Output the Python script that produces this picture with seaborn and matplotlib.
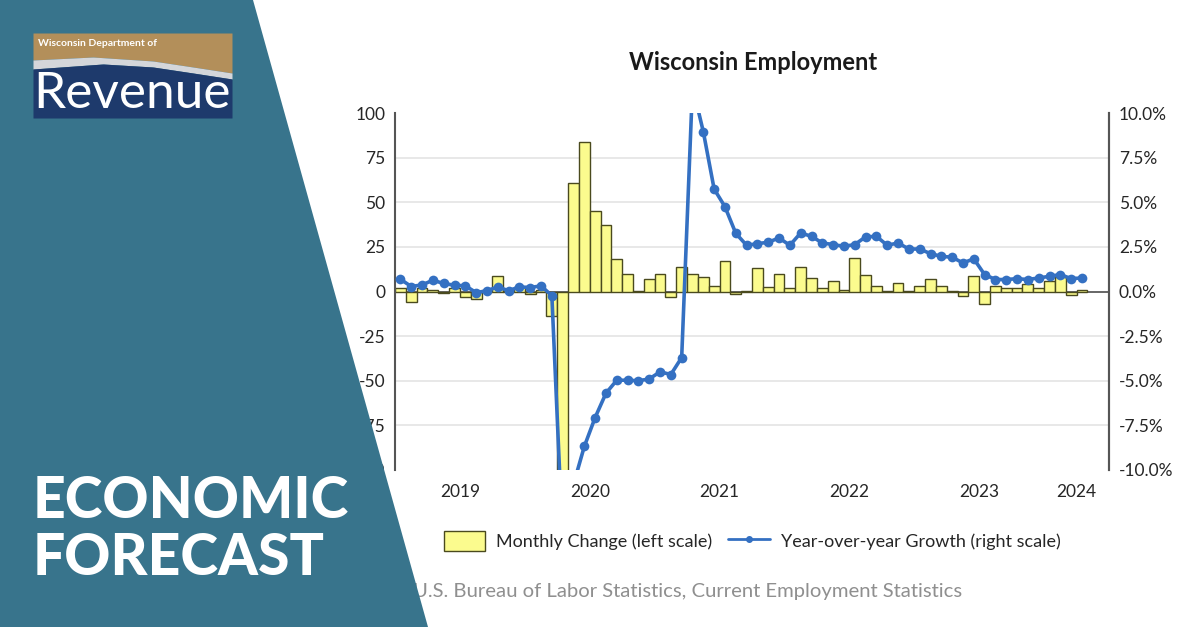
import numpy as np
import pandas as pd
import matplotlib
matplotlib.use("Agg")
import matplotlib.pyplot as plt
import seaborn as sns
from matplotlib.patches import Polygon, Patch
from matplotlib.lines import Line2D
from matplotlib.ticker import FixedLocator

# monthly change in WI employment (thousands), Jan 2019 - Apr 2024
monthly_change = [2, -6, 2, 1, -1, 2, -3, -4, 1, 8.5, 0.5, 2.5, -1.5, 1, -14,
                  -390, 61, 84, 45, 37, 18, 10, 0.5, 7, 10, -3, 14, 10, 8, 3, 17, -1.5,
                  0.5, 13, 2.5, 10, 2, 14, 7.5, 2, 6, 1, 19, 9, 3, 0.5, 5, 0.5,
                  3, 7, 3, 0.5, -2.5, 8.5, -7, 3, 2, 2, 4, 2, 6, 8, -2, 1]
# year-over-year growth (%)
yoy_growth = [0.69, 0.28, 0.37, 0.63, 0.45, 0.35, 0.32, -0.06, 0.04, 0.26, 0.04, 0.26, 0.22, 0.32, -0.24,
              -14.0, -10.8, -8.68, -7.06, -5.7, -4.97, -4.97, -5.0, -4.9, -4.5, -4.65, -3.7,
              11.5, 8.95, 5.74, 4.75, 3.26, 2.59, 2.68, 2.76, 3.0, 2.59, 3.28, 3.09, 2.72,
              2.63, 2.53, 2.63, 3.06, 3.09, 2.59, 2.72, 2.38, 2.38, 2.12, 1.97, 1.92, 1.60,
              1.83, 0.95, 0.67, 0.67, 0.72, 0.67, 0.76, 0.85, 0.95, 0.72, 0.76]
# axis runs Jan 2019 - Jun 2024
axis_months = pd.date_range("2019-01-01", "2024-06-01", freq="MS")
year_labels = ["2019", "2020", "2021", "2022", "2023", "2024"]
left_ticks = [100, 75, 50, 25, 0, -25, -50, -75, -100]
right_ticks = [10.0, 7.5, 5.0, 2.5, 0.0, -2.5, -5.0, -7.5, -10.0]

month_keys = [d.strftime("%Y-%m") for d in axis_months]
df = pd.DataFrame({"month": month_keys[:len(monthly_change)],
                   "change": monthly_change,
                   "yoy": yoy_growth,
                   "pos": np.arange(len(monthly_change))})

sns.set_style("white")
plt.rcParams["font.family"] = ["Lato", "DejaVu Sans"]

fig = plt.figure(figsize=(12, 6.27), dpi=100)
fig.patch.set_facecolor("white")

ax = fig.add_axes([395 / 1200, 1 - 470 / 627, 714 / 1200, 357 / 627])
sns.barplot(data=df, x="month", y="change", order=month_keys, color="#fbfb8e",
            edgecolor="#4a4a1e", linewidth=1, width=1.0, saturation=1,
            errorbar=None, ax=ax, zorder=2)
ax.set_ylim(-100, 100)
ax.set_xlim(-0.5, len(month_keys) - 0.5)
ax.yaxis.set_major_locator(FixedLocator(left_ticks))
ax.set_yticklabels([str(t) for t in left_ticks])
for t in left_ticks:
    if t not in (0, 100, -100):
        ax.axhline(t, color="#e4e4e4", lw=1.2, zorder=0)
ax.axhline(0, color="#5a5a5a", lw=1.3, zorder=1)

pos = np.arange(len(month_keys))
year_of = np.array([d.year for d in axis_months])
centers = [pos[year_of == int(y)].mean() for y in year_labels]
ax.set_xticks(centers)
ax.set_xticklabels(year_labels)
ax.set_xlabel("")
ax.set_ylabel("")
ax.tick_params(axis="x", length=0, pad=10, labelsize=12.5, labelcolor="#262626")
ax.tick_params(axis="y", length=0, pad=7, labelsize=12.5, labelcolor="#262626")
for s in ["top", "bottom"]:
    ax.spines[s].set_visible(False)
for s in ["left", "right"]:
    ax.spines[s].set_color("#555555")
    ax.spines[s].set_linewidth(1.5)

ax2 = ax.twinx()
sns.lineplot(data=df, x="pos", y="yoy", ax=ax2, color="#3470c2", lw=2.6,
             marker="o", markersize=7, markeredgewidth=0)
ax2.set_ylim(-10, 10)
ax2.yaxis.set_major_locator(FixedLocator(right_ticks))
ax2.set_yticklabels([f"{t:.1f}%" for t in right_ticks])
ax2.set_xlabel("")
ax2.set_ylabel("")
ax2.tick_params(axis="y", length=0, pad=7, labelsize=12.5, labelcolor="#262626")
for s in ["top", "bottom", "left"]:
    ax2.spines[s].set_visible(False)
ax2.spines["right"].set_color("#555555")
ax2.spines["right"].set_linewidth(1.5)
ax.set_xlim(-0.5, len(month_keys) - 0.5)

fig.text(753 / 1200, 1 - 62 / 627, "Wisconsin Employment", ha="center", va="center",
         fontsize=17, fontweight="bold", color="#1a1a1a")

handles = [Patch(facecolor="#fbfb8e", edgecolor="#4a4a1e", linewidth=1),
           Line2D([], [], color="#3470c2", lw=2, marker="o", markersize=4)]
fig.legend(handles, ["Monthly Change (left scale)", "Year-over-year Growth (right scale)"],
           loc="center", bbox_to_anchor=(752 / 1200, 1 - 541 / 627), ncol=2,
           frameon=False, fontsize=13, handlelength=2.3, handleheight=1.4,
           columnspacing=0.9, handletextpad=0.6, labelcolor="#262626")

fig.text(413 / 1200, 1 - 592 / 627, "U.S. Bureau of Labor Statistics, Current Employment Statistics",
         ha="left", va="center", fontsize=14.6, color="#8f8f8f")

# teal banner
fig.patches.append(Polygon([(0, 1), (253 / 1200, 1), (428 / 1200, 0), (0, 0)],
                           closed=True, transform=fig.transFigure,
                           facecolor="#38748c", edgecolor="none", zorder=10))

fig.text(33 / 1200, 1 - 518 / 627, "ECONOMIC", ha="left", va="baseline", fontsize=41,
         fontweight=900, color="white", zorder=30)
fig.text(33 / 1200, 1 - 575 / 627, "FORECAST", ha="left", va="baseline", fontsize=41,
         fontweight=900, color="white", zorder=30)

# logo
lax = fig.add_axes([33 / 1200, 1 - 118 / 627, 199 / 1200, 85 / 627])
lax.set_zorder(20)
lax.set_xlim(0, 199)
lax.set_ylim(85, 0)
lax.axis("off")
xs = np.linspace(0, 199, 100)
gold_edge = np.interp(xs, [0, 60, 120, 160, 199], [27, 24, 28, 34, 40])
navy_edge = np.interp(xs, [0, 70, 120, 160, 199], [36, 31, 34, 40, 46])
lax.fill_between(xs, 0, gold_edge, color="#b38f5a", lw=0)
lax.fill_between(xs, gold_edge, navy_edge, color="#d4d6da", lw=0)
lax.fill_between(xs, navy_edge, 85, color="#1e3a6c", lw=0)
lax.text(5, 10, "Wisconsin Department of", ha="left", va="center", fontsize=7.5,
         fontweight="bold", color="white")
lax.text(99, 61, "Revenue", ha="center", va="center", fontsize=37, color="white")

fig.savefig("out.png", dpi=100)
